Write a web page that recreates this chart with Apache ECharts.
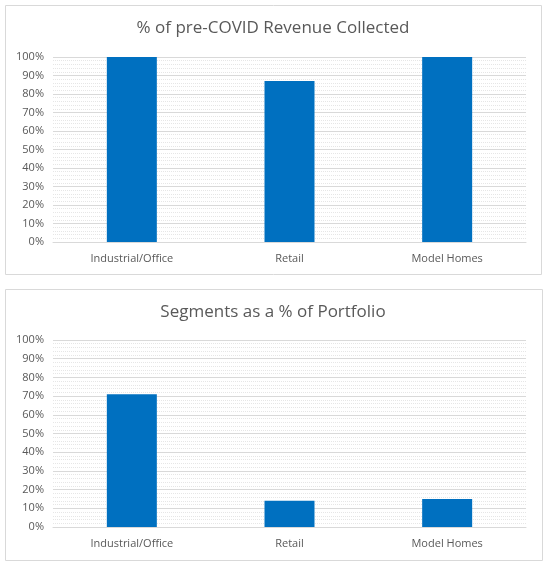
<!DOCTYPE html>
<html>
<head>
<meta charset="utf-8">
<script src="https://cdn.jsdelivr.net/npm/echarts@6/dist/echarts.min.js"></script>
<style>
  html, body { margin: 0; padding: 0; background: #fff; }
  #main { width: 546px; height: 565px; }
</style>
</head>
<body>
<div id="main"></div>
<script>
const categories = ["Industrial/Office", "Retail", "Model Homes"];
const revenueCollected = [100, 87, 100];
const portfolioShare = [71, 14, 15];
const titles = ["% of pre-COVID Revenue Collected", "Segments as a % of Portfolio"];

const textColor = "#595959";
const font = "Open Sans";

function xAxisFor(i) {
  return {
    type: "category",
    gridIndex: i,
    data: categories,
    axisTick: { show: false },
    axisLine: { lineStyle: { color: "#d9d9d9" } },
    axisLabel: { color: textColor, fontFamily: font, fontSize: 11, margin: 11 }
  };
}
function yAxisFor(i) {
  return {
    type: "value",
    gridIndex: i,
    min: 0,
    max: 100,
    interval: 10,
    axisLine: { show: false },
    axisTick: { show: false },
    axisLabel: { color: textColor, fontFamily: font, fontSize: 11, formatter: "{value}%", margin: 9 },
    splitLine: { lineStyle: { color: "#d9d9d9", width: 1 } },
    minorTick: { show: false, splitNumber: 5 },
    minorSplitLine: { show: true, lineStyle: { color: "#e6e6e6", type: "dotted", width: 1 } }
  };
}

const chart = echarts.init(document.getElementById("main"));
chart.setOption({
  animation: false,
  title: [
    { text: titles[0], left: "center", top: 15, textStyle: { color: textColor, fontFamily: font, fontSize: 17, fontWeight: "normal" } },
    { text: titles[1], left: "center", top: 299, textStyle: { color: textColor, fontFamily: font, fontSize: 17, fontWeight: "normal" } }
  ],
  graphic: [
    { type: "rect", shape: { x: 5.5, y: 5.5, width: 536, height: 269 }, style: { fill: "none", stroke: "#d9d9d9", lineWidth: 1 }, silent: true },
    { type: "rect", shape: { x: 5.5, y: 289.5, width: 537, height: 271 }, style: { fill: "none", stroke: "#d9d9d9", lineWidth: 1 }, silent: true }
  ],
  grid: [
    { left: 53, right: 20, top: 57, height: 185 },
    { left: 53, right: 20, top: 340, height: 187 }
  ],
  xAxis: [xAxisFor(0), xAxisFor(1)],
  yAxis: [yAxisFor(0), yAxisFor(1)],
  series: [
    { type: "bar", xAxisIndex: 0, yAxisIndex: 0, data: revenueCollected, barWidth: 50, itemStyle: { color: "#0070C0" } },
    { type: "bar", xAxisIndex: 1, yAxisIndex: 1, data: portfolioShare, barWidth: 50, itemStyle: { color: "#0070C0" } }
  ]
});
</script>
</body>
</html>
